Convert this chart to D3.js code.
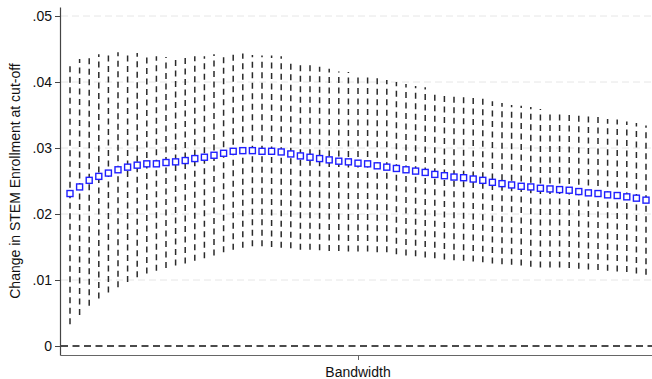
<!DOCTYPE html>
<html>
<head>
<meta charset="utf-8">
<script src="https://cdn.jsdelivr.net/npm/d3@7"></script>
<style>
  body { margin: 0; background: #fff; }
  svg { display: block; font-family: Arial, "Liberation Sans", sans-serif; }
</style>
</head>
<body>
<svg id="chart" width="652" height="379"></svg>
<script>
// point estimates, one per bandwidth step (1..61)
var estimate = [
  .0231, .0241, .0251, .0257, .0262, .0267, .0271, .0274, .0276, .0276,
  .0278, .0279, .0281, .0284, .0286, .0289, .0292, .0295, .0296, .0296,
  .0295, .0295, .0294, .0291, .0288, .0286, .0284, .0282, .0280, .0279,
  .0277, .0276, .0273, .0271, .0269, .0267, .0265, .0263, .0260, .0258,
  .0256, .0255, .0253, .0251, .0248, .0246, .0244, .0242, .0241, .0239,
  .0238, .0237, .0236, .0234, .0232, .0231, .0229, .0228, .0226, .0224,
  .0221
];
var lower = [
  .0033, .0047, .0061, .0072, .0081, .0089, .0097, .0104, .0110, .0114,
  .0118, .0122, .0125, .0129, .0133, .0137, .0142, .0146, .0149, .0151,
  .0151, .0150, .0149, .0148, .0146, .0146, .0145, .0144, .0144, .0143,
  .0143, .0143, .0142, .0142, .0139, .0137, .0136, .0134, .0133, .0131,
  .0130, .0129, .0128, .0127, .0125, .0124, .0123, .0122, .0120, .0119,
  .0119, .0119, .0118, .0117, .0116, .0115, .0114, .0113, .0112, .0110,
  .0108
];
var upper = [
  .0429, .0435, .0441, .0442, .0443, .0445, .0445, .0444, .0442, .0439,
  .0438, .0439, .0437, .0439, .0439, .0442, .0442, .0444, .0443, .0441,
  .0440, .0440, .0439, .0434, .0430, .0426, .0423, .0420, .0416, .0415,
  .0412, .0409, .0406, .0403, .0400, .0397, .0394, .0392, .0387, .0385,
  .0382, .0381, .0378, .0375, .0371, .0368, .0365, .0364, .0362, .0359,
  .0357, .0355, .0354, .0351, .0349, .0347, .0344, .0343, .0340, .0338,
  .0334
];
var yTicks = [0, .01, .02, .03, .04, .05];
var yTickLabels = ["0", ".01", ".02", ".03", ".04", ".05"];
var xTickAt = 31;
var yTitle = "Change in STEM Enrollment at cut-off";
var xTitle = "Bandwidth";

var svg = d3.select("#chart");
var steps = d3.range(1, estimate.length + 1);

// plot region: 60..656 wide, 7..355 tall, with inner padding like the original
var x = d3.scaleLinear().domain([1 - 10 / 9.6, 61 + 10 / 9.6]).range([60, 656]);
var y = d3.scaleLinear().domain([-9 / 6600, 0.05 + 9 / 6600]).range([355, 7]);

// light dashed grid
svg.append("g").selectAll("line")
  .data(yTicks.filter(function(d){ return d > 0; }))
  .enter().append("line")
  .attr("x1", 61).attr("x2", 656)
  .attr("y1", function(d){ return y(d); })
  .attr("y2", function(d){ return y(d); })
  .attr("stroke", "#e6e6e6")
  .attr("stroke-width", 1)
  .attr("stroke-dasharray", "7,4");

// zero reference line
svg.append("line")
  .attr("x1", 61).attr("x2", 656)
  .attr("y1", y(0)).attr("y2", y(0))
  .attr("stroke", "#111")
  .attr("stroke-width", 1.3)
  .attr("stroke-dasharray", "7,4.5");

// confidence intervals, drawn from the bottom up so the dash pattern ends at the top
svg.append("g").selectAll("line")
  .data(steps)
  .enter().append("line")
  .attr("x1", function(d){ return x(d); })
  .attr("x2", function(d){ return x(d); })
  .attr("y1", function(d, i){ return y(lower[i]); })
  .attr("y2", function(d, i){ return y(upper[i]); })
  .attr("stroke", "#2a2a2a")
  .attr("stroke-width", 1.5)
  .attr("stroke-dasharray", "6,4.5");

// point estimates as hollow squares
var sq = 6;
svg.append("g").selectAll("rect")
  .data(steps)
  .enter().append("rect")
  .attr("x", function(d){ return x(d) - sq / 2; })
  .attr("y", function(d, i){ return y(estimate[i]) - sq / 2; })
  .attr("width", sq).attr("height", sq)
  .attr("fill", "#fff")
  .attr("stroke", "#1f1fff")
  .attr("stroke-width", 1.4);

// y axis
var yAxis = d3.axisLeft(y)
  .tickValues(yTicks)
  .tickFormat(function(d, i){ return yTickLabels[i]; })
  .tickSizeInner(5)
  .tickSizeOuter(0)
  .tickPadding(3);
var yg = svg.append("g").attr("transform", "translate(60,0)").call(yAxis);
yg.select(".domain").attr("stroke", "#444").attr("stroke-width", 1.2);
yg.selectAll(".tick line").attr("stroke", "#444").attr("stroke-width", 1);
yg.selectAll(".tick text").attr("font-size", 14).attr("fill", "#111")
  .attr("font-family", "Arial, 'Liberation Sans', sans-serif");

// x axis, a single unlabeled tick at the middle
var xAxis = d3.axisBottom(x)
  .tickValues([xTickAt])
  .tickFormat("")
  .tickSizeInner(5)
  .tickSizeOuter(0);
var xg = svg.append("g").attr("transform", "translate(0,355)").call(xAxis);
xg.select(".domain").attr("stroke", "#666").attr("stroke-width", 1.2);
xg.selectAll(".tick line").attr("stroke", "#666");

// titles
svg.append("text")
  .attr("x", x(xTickAt))
  .attr("y", 377)
  .attr("text-anchor", "middle")
  .attr("font-size", 14)
  .attr("fill", "#111")
  .text(xTitle);

svg.append("text")
  .attr("transform", "translate(20," + y(0.025) + ") rotate(-90)")
  .attr("text-anchor", "middle")
  .attr("font-size", 14)
  .attr("fill", "#111")
  .text(yTitle);
</script>
</body>
</html>
